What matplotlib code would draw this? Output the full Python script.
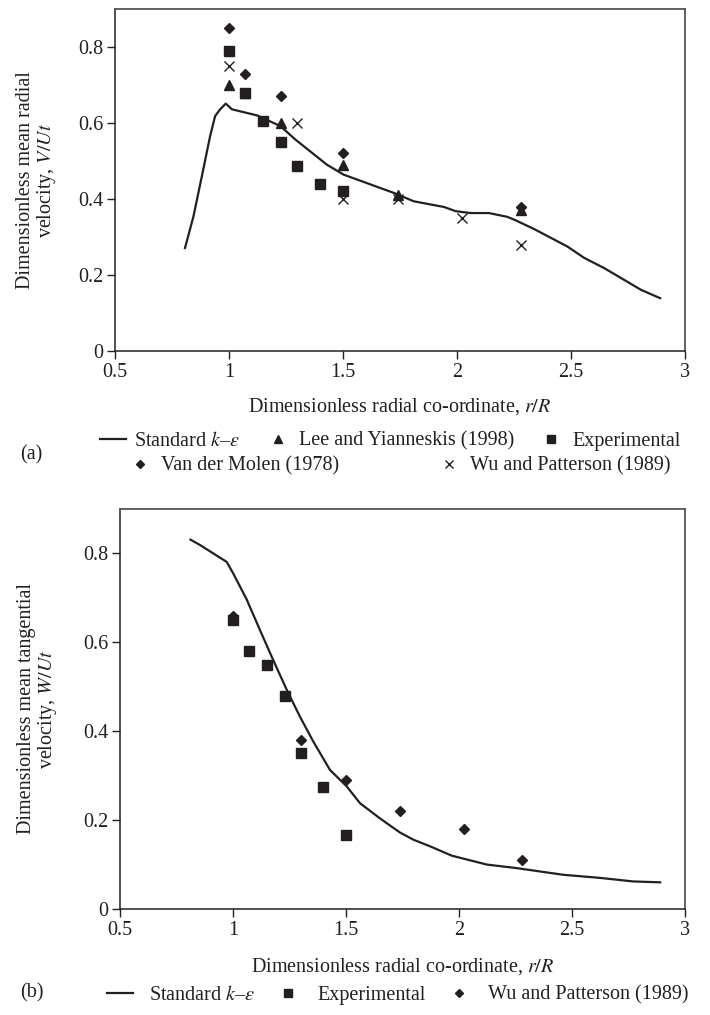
import matplotlib
matplotlib.use("Agg")
import matplotlib.pyplot as plt
from matplotlib.lines import Line2D

plt.rcParams['font.family'] = ['Liberation Serif', 'DejaVu Serif']
plt.rcParams['mathtext.fontset'] = 'stix'

INK = '#231f20'

# ---------------- Panel (a): radial velocity ----------------
a_curve_x = [0.807, 0.844, 0.881, 0.917, 0.939, 0.961, 0.986, 1.013, 1.123, 1.225, 1.29,
             1.43, 1.503, 1.723, 1.81, 1.943, 1.994, 2.06, 2.14, 2.221, 2.257, 2.338,
             2.484, 2.558, 2.646, 2.807, 2.891]
a_curve_y = [0.271, 0.354, 0.46, 0.565, 0.618, 0.636, 0.651, 0.636, 0.62, 0.592, 0.557,
             0.49, 0.464, 0.416, 0.394, 0.379, 0.368, 0.363, 0.363, 0.353, 0.344, 0.321,
             0.275, 0.245, 0.218, 0.161, 0.139]

a_lee_x = [1.0, 1.07, 1.23, 1.5, 1.74, 2.28]
a_lee_y = [0.70, 0.68, 0.60, 0.49, 0.41, 0.37]

a_exp_x = [1.0, 1.07, 1.15, 1.23, 1.30, 1.40, 1.50]
a_exp_y = [0.79, 0.68, 0.605, 0.55, 0.486, 0.44, 0.42]

a_vdm_x = [1.0, 1.07, 1.23, 1.5, 2.28]
a_vdm_y = [0.85, 0.73, 0.67, 0.52, 0.38]

a_wu_x = [1.0, 1.30, 1.5, 1.74, 2.02, 2.28]
a_wu_y = [0.75, 0.60, 0.40, 0.40, 0.35, 0.28]

# ---------------- Panel (b): tangential velocity ----------------
b_curve_x = [0.812, 0.854, 0.913, 0.972, 1.001, 1.06, 1.119, 1.178, 1.238, 1.296, 1.355,
             1.429, 1.503, 1.562, 1.65, 1.739, 1.798, 1.872, 1.968, 2.123, 2.255, 2.461,
             2.624, 2.771, 2.89]
b_curve_y = [0.831, 0.819, 0.80, 0.781, 0.755, 0.697, 0.628, 0.56, 0.493, 0.433, 0.377,
             0.313, 0.276, 0.238, 0.204, 0.172, 0.156, 0.141, 0.12, 0.10, 0.092, 0.077,
             0.07, 0.062, 0.06]

b_exp_x = [1.0, 1.07, 1.15, 1.23, 1.30, 1.40, 1.50]
b_exp_y = [0.65, 0.58, 0.55, 0.48, 0.35, 0.275, 0.167]

b_wu_x = [1.0, 1.30, 1.5, 1.74, 2.02, 2.28]
b_wu_y = [0.66, 0.38, 0.29, 0.22, 0.18, 0.11]

x_ticks = [0.5, 1, 1.5, 2, 2.5, 3]
x_ticklabels = ['0.5', '1', '1.5', '2', '2.5', '3']
y_ticks = [0, 0.2, 0.4, 0.6, 0.8]
y_ticklabels = ['0', '0.2', '0.4', '0.6', '0.8']

FS = 14.5

fig = plt.figure(figsize=(7.10, 10.15), dpi=100)
W, H = 710.0, 1015.0

def make_ax(l, r, t, b):
    return fig.add_axes([l / W, 1 - b / H, (r - l) / W, (b - t) / H])

def style(ax):
    ax.set_xlim(0.5, 3)
    ax.set_ylim(0, 0.9)
    ax.set_xticks(x_ticks)
    ax.set_xticklabels(x_ticklabels)
    ax.set_yticks(y_ticks)
    ax.set_yticklabels(y_ticklabels)
    ax.tick_params(direction='out', length=5.5, width=1, colors=INK, labelsize=FS, pad=3)
    for s in ['left', 'bottom']:
        ax.spines[s].set_color(INK)
        ax.spines[s].set_linewidth(1.1)
    for s in ['top', 'right']:
        ax.spines[s].set_color('#555555')
        ax.spines[s].set_linewidth(1.3)

sq = dict(marker='s', ms=7.5, color=INK, ls='none', mec=INK)
tri = dict(marker='^', ms=7.5, color=INK, ls='none', mec=INK)
dia = dict(marker='D', ms=5.5, color=INK, ls='none', mec=INK)
xx = dict(marker='x', ms=7.5, color=INK, ls='none', mew=1.0)

# Panel (a)
axa = make_ax(115, 685, 9, 351)
style(axa)
axa.plot(a_curve_x, a_curve_y, color=INK, lw=1.6)
axa.plot(a_exp_x, a_exp_y, **sq)
axa.plot(a_lee_x, a_lee_y, **tri)
axa.plot(a_vdm_x, a_vdm_y, **dia)
axa.plot(a_wu_x, a_wu_y, **xx)
axa.set_xlabel('Dimensionless radial co-ordinate, $r/R$', fontsize=FS, color=INK, labelpad=10)
axa.set_ylabel('Dimensionless mean radial\nvelocity, $V/Ut$', fontsize=FS, color=INK,
               labelpad=14, linespacing=1.05)

# Panel (b)
axb = make_ax(120, 685, 509, 909)
style(axb)
axb.plot(b_curve_x, b_curve_y, color=INK, lw=1.6)
axb.plot(b_exp_x, b_exp_y, **sq)
axb.plot(b_wu_x, b_wu_y, **dia)
axb.set_xlabel('Dimensionless radial co-ordinate, $r/R$', fontsize=FS, color=INK, labelpad=12)
axb.set_ylabel('Dimensionless mean tangential\nvelocity, $W/Ut$', fontsize=FS, color=INK,
               labelpad=17, linespacing=1.05)

# Legends
def H_line():
    return Line2D([], [], color=INK, lw=1.6)
def H_m(d, scale=0.7):
    dd = dict(d)
    dd['ms'] = dd['ms'] * scale
    return Line2D([], [], **dd)

leg_kw = dict(frameon=False, fontsize=FS, handlelength=1.3, handletextpad=0.4,
              borderpad=0, labelcolor=INK)

fig.legend([H_line(), H_m(tri), H_m(sq)],
           ['Standard $k$–$\\varepsilon$', 'Lee and Yianneskis (1998)', 'Experimental'],
           loc='center', bbox_to_anchor=(0.55, 1 - 441 / H), ncol=3, columnspacing=1.2,
           **leg_kw)
fig.legend([H_m(dia), H_m(xx)],
           ['Van der Molen (1978)', 'Wu and Patterson (1989)'],
           loc='center', bbox_to_anchor=(0.562, 1 - 466 / H), ncol=2, columnspacing=4.8,
           **leg_kw)
fig.text(20 / W, 1 - 455 / H, '(a)', fontsize=FS, color=INK, va='center')

leg_kw_b = dict(leg_kw)
leg_kw_b['handletextpad'] = 0.8
fig.legend([H_line(), H_m(sq), H_m(dia)],
           ['Standard $k$–$\\varepsilon$', 'Experimental', 'Wu and Patterson (1989)'],
           loc='center', bbox_to_anchor=(0.56, 1 - 995 / H), ncol=3, columnspacing=1.0,
           **leg_kw_b)
fig.text(20 / W, 1 - 993 / H, '(b)', fontsize=FS, color=INK, va='center')

fig.savefig('out.png', dpi=100, facecolor='white')
